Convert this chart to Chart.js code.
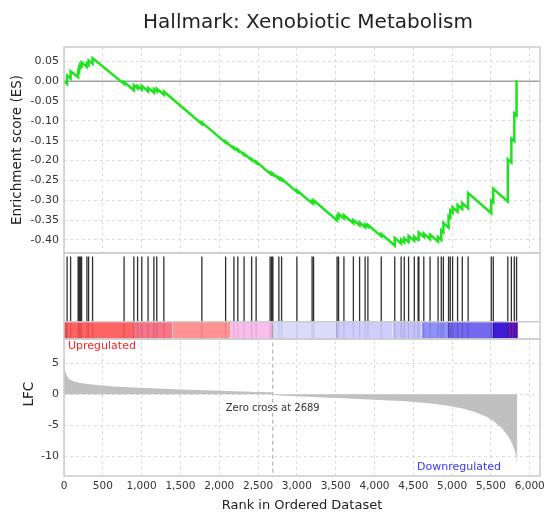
<!DOCTYPE html>
<html>
<head>
<meta charset="utf-8">
<script src="https://cdn.jsdelivr.net/npm/chart.js@4.4.0/dist/chart.umd.min.js"></script>
<style>
  html, body { margin: 0; padding: 0; background: #fff; }
  canvas { display: block; }
</style>
</head>
<body>
<canvas id="gsea" width="549" height="513"></canvas>
<script>
'use strict';

// ── Data ─────────────────────────────────────────────────────────────────────
const TITLE      = 'Hallmark: Xenobiotic Metabolism';
const ZERO_CROSS = 2689;
const X_MAX      = 6132;

const RANK_TICKS = [0, 500, 1000, 1500, 2000, 2500, 3000, 3500, 4000, 4500, 5000, 5500, 6000];
const ES_TICKS   = [0.05, 0, -0.05, -0.10, -0.15, -0.20, -0.25, -0.30, -0.35, -0.40];
const LFC_TICKS  = [5, 0, -5, -10];

// running enrichment score, vertices (rank, ES)
const esRank = [
  0, 40, 40, 85, 85, 182, 182, 195, 195, 210, 210, 227, 227, 295, 295, 317, 317, 368, 368,
  774, 774, 900, 900, 948, 948, 1002, 1002, 1083, 1083, 1158, 1158, 1195, 1195, 1286, 1286,
  1776, 1776, 2082, 2082, 2189, 2189, 2239, 2239, 2320, 2320, 2417, 2417, 2475, 2475,
  2655, 2655, 2674, 2674, 2691, 2691, 2768, 2768, 2803, 2803, 3000, 3000, 3196, 3196, 3215, 3215,
  3518, 3518, 3537, 3537, 3606, 3606, 3728, 3728, 3808, 3808, 3879, 3879, 3915, 3915,
  4087, 4087, 4261, 4261, 4343, 4343, 4384, 4384, 4439, 4439, 4513, 4513, 4562, 4562, 4572, 4572,
  4635, 4635, 4716, 4716, 4819, 4819, 4860, 4860, 4887, 4887, 4954, 4954, 4976, 4976, 5006, 5006,
  5070, 5070, 5131, 5131, 5206, 5206, 5504, 5504, 5530, 5530, 5717, 5717, 5763, 5763, 5801, 5801,
  5830, 5830, 5840,
];
const esScore = [
  0.000, -0.007, 0.014, 0.007, 0.025, 0.010, 0.026, 0.024, 0.036, 0.034, 0.042, 0.039, 0.047, 0.036, 0.045, 0.041, 0.052, 0.044, 0.058,
  -0.007, -0.002, -0.023, -0.010, -0.018, -0.012, -0.021, -0.012, -0.026, -0.017, -0.029, -0.020, -0.026, -0.019, -0.034, -0.026,
  -0.108, -0.104, -0.155, -0.152, -0.170, -0.167, -0.175, -0.172, -0.186, -0.183, -0.199, -0.196, -0.206, -0.203,
  -0.233, -0.231, -0.234, -0.232, -0.235, -0.233, -0.246, -0.243, -0.249, -0.246, -0.279, -0.275, -0.308, -0.303, -0.306, -0.300,
  -0.351, -0.341, -0.344, -0.334, -0.346, -0.338, -0.358, -0.350, -0.363, -0.356, -0.368, -0.361, -0.367, -0.362,
  -0.391, -0.385, -0.414, -0.395, -0.409, -0.399, -0.406, -0.396, -0.405, -0.390, -0.402, -0.392, -0.400, -0.390, -0.392, -0.381,
  -0.392, -0.384, -0.398, -0.387, -0.404, -0.393, -0.400, -0.376, -0.381, -0.357, -0.369, -0.340, -0.344, -0.326, -0.331, -0.318,
  -0.329, -0.312, -0.322, -0.307, -0.320, -0.282, -0.333, -0.301, -0.305, -0.271, -0.303, -0.197, -0.205, -0.145, -0.151, -0.081,
  -0.086, 0.000, 0.000,
];

// gene-set members in the ranked list
const hitRank = [
  40, 85, 182, 195, 210, 227, 295, 317, 368, 774, 900, 948, 1002, 1083, 1158, 1195, 1286,
  1776, 2082, 2189, 2239, 2320, 2417, 2475, 2655, 2674, 2691, 2768, 2803, 3000, 3196, 3215,
  3518, 3537, 3606, 3728, 3808, 3879, 3915, 4087, 4261, 4343, 4384, 4439, 4513, 4562, 4572,
  4635, 4716, 4819, 4860, 4887, 4954, 4976, 5006, 5070, 5131, 5206, 5504, 5530, 5717, 5763,
  5801, 5830,
];

// ranked log fold change profile
const lfcRank  = [0, 8, 20, 40, 70, 120, 200, 300, 450, 650, 900, 1200, 1500, 1800, 2100, 2400, 2650, 2688,
                  2690, 2800, 3200, 3600, 4000, 4400, 4700, 4950, 5150, 5300, 5450, 5550, 5650, 5720, 5770, 5810, 5830, 5840];
const lfcValue = [4.8, 4.1, 3.5, 2.9, 2.4, 2.1, 1.85, 1.65, 1.45, 1.25, 1.07, 0.9, 0.76, 0.64, 0.52, 0.4, 0.3, 0.28,
                  -0.1, -0.22, -0.45, -0.65, -0.88, -1.15, -1.45, -1.85, -2.35, -2.9, -3.7, -4.5, -5.6, -6.8, -7.9, -9.2, -10.3, -12.3];

// colour strip under the hits
const barEdges  = [0, 37, 905, 1395, 2146, 2691, 3512, 4233, 4607, 4955, 5522, 5718, 5847];
const barColors = ['#e63c3c', '#ff5353', '#f7667c', '#ff8787', '#f8b7ea', '#d6d6fb',
                   '#cac8fc', '#bfbcfb', '#8484fb', '#6359ec', '#2a04d2', '#5205b0'];

const HIT_TOP = 0.96;
const BAR_TOP = 0.2;

// ── Chart ────────────────────────────────────────────────────────────────────
Chart.defaults.font.family = '"DejaVu Sans", Verdana, sans-serif';
Chart.defaults.color = '#333';

const GRID = '#dcdcdc';
const FRAME = '#cccccc';

const esData   = esRank.map((r, i) => ({ x: r, y: esScore[i] }));
const lfcData  = lfcRank.map((r, i) => ({ x: r, y: lfcValue[i] }));
const hitData  = hitRank.flatMap(r => [{ x: r, y: 0 }, { x: r, y: HIT_TOP }, { x: r, y: null }]);
const barSets  = barColors.map((c, i) => ({
  data: [{ x: barEdges[i], y: BAR_TOP }, { x: barEdges[i + 1], y: BAR_TOP }],
  yAxisID: 'yHit', order: 1,
  borderWidth: 0, pointRadius: 0,
  backgroundColor: c + 'e6', fill: { value: 0 },
}));

const gseaDecor = {
  id: 'gseaDecor',
  beforeDatasetsDraw(chart) {
    const { ctx, chartArea: a, scales: { yES, yHit } } = chart;
    ctx.save();
    // hits panel has no grid
    ctx.fillStyle = '#fff';
    ctx.fillRect(a.left, yHit.top, a.right - a.left, yHit.bottom - yHit.top);
    // ES = 0 reference line
    const y0 = yES.getPixelForValue(0);
    ctx.strokeStyle = '#a3a3a3';
    ctx.lineWidth = 1.5;
    ctx.beginPath(); ctx.moveTo(a.left, y0); ctx.lineTo(a.right, y0); ctx.stroke();
    ctx.restore();
  },
  afterDatasetsDraw(chart) {
    const { ctx, chartArea: a, scales: { x, yES, yHit, yLFC } } = chart;
    ctx.save();

    // zero cross marker
    const zx = x.getPixelForValue(ZERO_CROSS);
    const barY = yHit.getPixelForValue(BAR_TOP);
    ctx.strokeStyle = '#b4b4b4';
    ctx.lineWidth = 1.2;
    ctx.setLineDash([4, 3]);
    ctx.beginPath(); ctx.moveTo(zx, barY); ctx.lineTo(zx, a.bottom); ctx.stroke();
    ctx.setLineDash([]);

    // panel frames
    ctx.strokeStyle = FRAME;
    ctx.lineWidth = 1.5;
    [yES, yHit, yLFC].forEach(s => ctx.strokeRect(a.left, s.top, a.right - a.left, s.bottom - s.top));
    ctx.beginPath(); ctx.moveTo(a.left, barY); ctx.lineTo(a.right, barY); ctx.stroke();

    // annotations
    ctx.textBaseline = 'middle';
    ctx.font = '11px "DejaVu Sans"';
    ctx.fillStyle = '#f22';
    ctx.textAlign = 'left';
    ctx.fillText('Upregulated', a.left + 4, yLFC.top + 7);
    ctx.fillStyle = '#3636ff';
    ctx.textAlign = 'right';
    ctx.fillText('Downregulated', a.right - 39, a.bottom - 9);
    ctx.fillStyle = '#333';
    ctx.textAlign = 'center';
    ctx.font = '10px "DejaVu Sans"';
    ctx.fillText('Zero cross at ' + ZERO_CROSS, zx, yLFC.getPixelForValue(0) + 14);

    // LFC axis title, level with LFC = 0
    ctx.font = '13.5px "DejaVu Sans"';
    ctx.fillStyle = '#222';
    ctx.translate(29.5, yLFC.getPixelForValue(0));
    ctx.rotate(-Math.PI / 2);
    ctx.fillText('LFC', 0, 0);
    ctx.restore();

    // figure title
    ctx.save();
    ctx.font = '20px "DejaVu Sans"';
    ctx.fillStyle = '#222';
    ctx.textAlign = 'center';
    ctx.textBaseline = 'alphabetic';
    ctx.fillText(TITLE, (a.left + a.right) / 2 + 6, 28);
    ctx.restore();
  },
};

const yBase = {
  type: 'linear', position: 'left', stack: 'gsea',
  border: { display: false, dash: [3, 3] },
  grid: { color: GRID, drawTicks: false },
  ticks: { padding: 5, autoSkip: false, font: { size: 11 }, color: '#333' },
  afterFit(s) { s.width = 60; },
};

new Chart(document.getElementById('gsea'), {
  type: 'line',
  data: {
    datasets: [
      { data: esData, yAxisID: 'yES', order: 0, borderColor: '#1ee31e', borderWidth: 2.5,
        pointRadius: 0, fill: false, tension: 0 },
      ...barSets,
      { data: hitData, yAxisID: 'yHit', order: 2, borderColor: 'rgba(25,25,25,0.9)', borderWidth: 1.3,
        pointRadius: 0, fill: false, spanGaps: false },
      { data: lfcData, yAxisID: 'yLFC', order: 3, borderWidth: 0, borderColor: '#c0c0c0',
        backgroundColor: '#c0c0c0', pointRadius: 0, fill: 'origin', tension: 0 },
    ],
  },
  options: {
    responsive: false,
    animation: false,
    events: [],
    layout: { padding: { left: 4, right: 9, top: 47, bottom: 0 } },
    plugins: { legend: { display: false }, tooltip: { enabled: false }, title: { display: false } },
    scales: {
      x: {
        type: 'linear', min: 0, max: X_MAX,
        afterBuildTicks(s) { s.ticks = RANK_TICKS.map(v => ({ value: v })); },
        ticks: { padding: 4, maxRotation: 0, autoSkip: false, font: { size: 10.5 }, color: '#333',
                 callback: v => v.toLocaleString('en-US') },
        grid: { color: GRID, drawTicks: false },
        border: { display: false, dash: [3, 3] },
        title: { display: true, text: 'Rank in Ordered Dataset', color: '#222',
                 font: { size: 13 }, padding: { top: 4, bottom: 0 } },
        afterFit(s) { s.height = 37; },
      },
      yES: {
        ...yBase, weight: 3, stackWeight: 206, min: -0.433, max: 0.086,
        afterBuildTicks(s) { s.ticks = ES_TICKS.map(v => ({ value: v })); },
        ticks: { ...yBase.ticks, callback: v => v.toFixed(2) },
        title: { display: true, text: 'Enrichment score (ES)', color: '#222',
                 font: { size: 13.5 }, padding: { top: 5, bottom: 0 } },
      },
      yHit: {
        ...yBase, weight: 2, stackWeight: 86, min: 0, max: 1,
        grid: { display: false },
        ticks: { display: false },
      },
      yLFC: {
        ...yBase, weight: 1, stackWeight: 137, min: -13.2, max: 8.9,
        afterBuildTicks(s) { s.ticks = LFC_TICKS.map(v => ({ value: v })); },
        ticks: { ...yBase.ticks, callback: v => String(v) },
      },
    },
  },
  plugins: [gseaDecor],
});
</script>
</body>
</html>
